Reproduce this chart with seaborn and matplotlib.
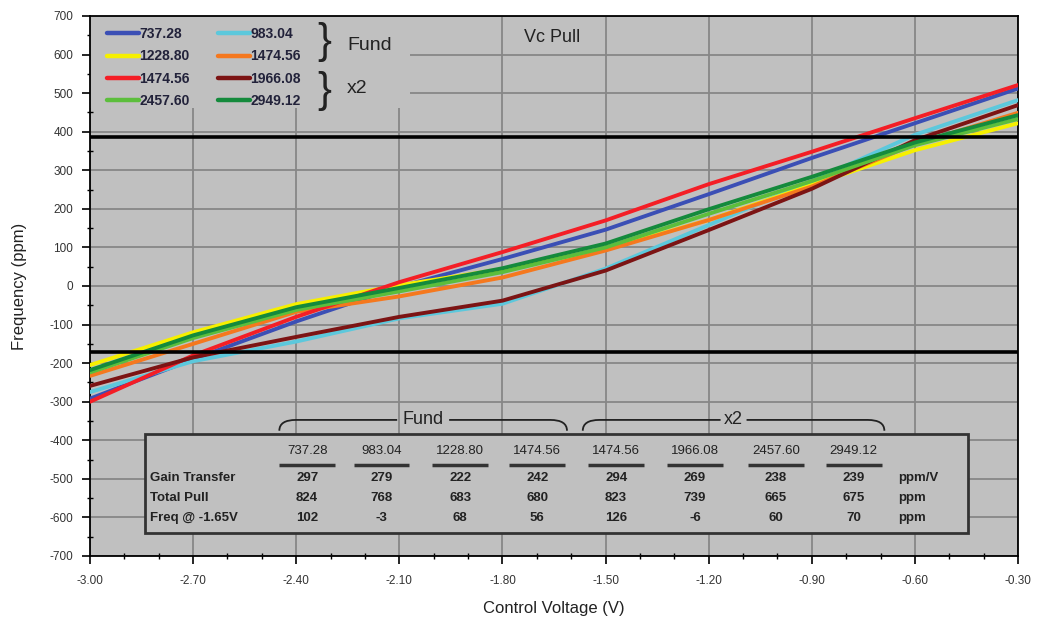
import numpy as np
import pandas as pd
import matplotlib
matplotlib.use("Agg")
import matplotlib.pyplot as plt
import seaborn as sns
from matplotlib.lines import Line2D
from matplotlib.patches import Rectangle, PathPatch
from matplotlib.path import Path
from matplotlib.ticker import MultipleLocator, FormatStrFormatter

# control voltage sample points (V)
voltage = [-3.0, -2.7, -2.4, -2.1, -1.8, -1.5, -1.2, -0.9, -0.6, -0.3]

# frequency deviation (ppm) per series
f737_28 = [-292, -190, -92, -2, 70, 146, 238, 332, 422, 512]
f983_04 = [-275, -195, -144, -84, -46, 45, 158, 272, 392, 482]
f1228_80 = [-205, -120, -47, 2, 44, 95, 171, 262, 352, 422]
f1474_56_fund = [-233, -150, -67, -27, 22, 92, 171, 258, 368, 449]
f1474_56_x2 = [-300, -180, -80, 10, 88, 170, 264, 348, 435, 521]
f1966_08 = [-259, -185, -132, -80, -38, 40, 145, 252, 378, 469]
f2457_60 = [-224, -135, -62, -14, 36, 100, 187, 272, 365, 433]
f2949_12 = [-218, -128, -55, -5, 46, 110, 199, 283, 372, 443]

series_keys = ["737.28", "983.04", "1228.80", "1474.56 F", "1474.56 X", "1966.08", "2457.60", "2949.12"]
series_labels = ["737.28", "983.04", "1228.80", "1474.56", "1474.56", "1966.08", "2457.60", "2949.12"]
series_vals = [f737_28, f983_04, f1228_80, f1474_56_fund, f1474_56_x2, f1966_08, f2457_60, f2949_12]
colors = ["#3b4fb5", "#5cc8dc", "#f6f000", "#f5781e", "#f41e26", "#7c1414", "#5cbe3c", "#148a3c"]

# limit lines
upper_limit = 387
lower_limit = -172

# table contents
table_cols = ["737.28", "983.04", "1228.80", "1474.56", "1474.56", "1966.08", "2457.60", "2949.12"]
gain_transfer = [297, 279, 222, 242, 294, 269, 238, 239]
total_pull = [824, 768, 683, 680, 823, 739, 665, 675]
freq_at_165 = [102, -3, 68, 56, 126, -6, 60, 70]
row_names = ["Gain Transfer", "Total Pull", "Freq @ -1.65V"]
row_units = ["ppm/V", "ppm", "ppm"]

rows = []
for key, vals in zip(series_keys, series_vals):
    for v, f in zip(voltage, vals):
        rows.append({"voltage": v, "ppm": f, "series": key})
df = pd.DataFrame(rows)

sns.set_theme(style="white")
plt.rcParams["font.family"] = ["Liberation Sans", "DejaVu Sans"]
plt.rcParams["axes.unicode_minus"] = False

bg = "#c0c0c0"
fig = plt.figure(figsize=(10.38, 6.18), dpi=100)
ax = fig.add_axes([90 / 1038, 1 - 556 / 618, 928 / 1038, 540 / 618])
ax.set_facecolor(bg)

sns.lineplot(data=df, x="voltage", y="ppm", hue="series", hue_order=series_keys,
             palette=dict(zip(series_keys, colors)), lw=2.8, legend=False,
             errorbar=None, sort=False, ax=ax, zorder=3)

ax.axhline(upper_limit, color="black", lw=2.6, zorder=4)
ax.axhline(lower_limit, color="black", lw=2.6, zorder=4)

ax.set_xlim(-3.0, -0.3)
ax.set_ylim(-700, 700)
ax.xaxis.set_major_locator(MultipleLocator(0.3))
ax.xaxis.set_minor_locator(MultipleLocator(0.1))
ax.xaxis.set_major_formatter(FormatStrFormatter("%.2f"))
ax.yaxis.set_major_locator(MultipleLocator(100))
ax.yaxis.set_minor_locator(MultipleLocator(50))
ax.grid(True, which="major", color="#878787", lw=1.3)
ax.set_axisbelow(True)
ax.tick_params(which="major", direction="out", length=6, width=1.2, color="black",
               labelsize=8.5, labelcolor="#333333", bottom=True, left=True)
ax.tick_params(axis="x", which="major", pad=8)
ax.tick_params(axis="y", which="major", pad=6)
ax.tick_params(which="minor", direction="inout", length=4, width=1, color="black",
               bottom=True, left=True)
for s in ax.spines.values():
    s.set_color("black")
    s.set_linewidth(1.3)
ax.set_xlabel("Control Voltage (V)", fontsize=12, color="#222222", labelpad=10)
ax.set_ylabel("Frequency (ppm)", fontsize=12, color="#222222", labelpad=16)

# legend area (opaque, hides grid)
ax.add_patch(Rectangle((0, 0.83), 0.345, 0.17, transform=ax.transAxes,
                       facecolor=bg, edgecolor="none", zorder=1.5))
order = [0, 2, 4, 6, 1, 3, 5, 7]
handles = [Line2D([], [], color=colors[i], lw=3.2) for i in order]
labels = [series_labels[i] for i in order]
leg = ax.legend(handles, labels, ncol=2, loc="upper left", bbox_to_anchor=(0.006, 1.0),
                frameon=False, prop={"weight": "bold", "size": 10},
                handlelength=2.3, handletextpad=0.05, labelspacing=0.6,
                columnspacing=2.0, borderaxespad=0.6, borderpad=0.2)
for t in leg.get_texts():
    t.set_color("#22223a")
ax.text(0.252, 0.951, "}", transform=ax.transAxes, fontsize=30, ha="center",
        va="center", color="#222222", fontweight="light")
ax.text(0.252, 0.862, "}", transform=ax.transAxes, fontsize=30, ha="center",
        va="center", color="#222222", fontweight="light")
ax.text(0.277, 0.946, "Fund", transform=ax.transAxes, fontsize=14, ha="left",
        va="center", color="#222222")
ax.text(0.277, 0.866, "x2", transform=ax.transAxes, fontsize=14, ha="left",
        va="center", color="#222222")
ax.text(0.498, 0.961, "Vc Pull", transform=ax.transAxes, fontsize=13, ha="center",
        va="center", color="#222222")

# table box
ax.add_patch(Rectangle((0.059, 0.043), 0.887, 0.183, transform=ax.transAxes,
                       facecolor=bg, edgecolor="#333333", lw=2, zorder=5))
col_x = [0.234, 0.314, 0.399, 0.482, 0.567, 0.652, 0.739, 0.823]
row_y = [0.144, 0.107, 0.070]
for cx, name in zip(col_x, table_cols):
    ax.text(cx, 0.194, name, transform=ax.transAxes, fontsize=9.5, ha="center",
            va="center", color="#222222", zorder=6)
    ax.plot([cx - 0.03, cx + 0.03], [0.168, 0.168], transform=ax.transAxes,
            color="#333333", lw=2.5, zorder=6, solid_capstyle="butt")
for ry, name, unit, vals in zip(row_y, row_names, row_units,
                                [gain_transfer, total_pull, freq_at_165]):
    ax.text(0.065, ry, name, transform=ax.transAxes, fontsize=9.5, fontweight="bold",
            ha="left", va="center", color="#222222", zorder=6)
    ax.text(0.871, ry, unit, transform=ax.transAxes, fontsize=9.5, fontweight="bold",
            ha="left", va="center", color="#222222", zorder=6)
    for cx, v in zip(col_x, vals):
        ax.text(cx, ry, str(v), transform=ax.transAxes, fontsize=9.5, fontweight="bold",
                ha="center", va="center", color="#222222", zorder=6)


def bracket(x0, x1, label):
    y, yd, r = 0.252, 0.232, 0.018
    xm = (x0 + x1) / 2
    gap = 0.028 if len(label) > 2 else 0.014
    verts = [(x0, yd), (x0, y), (x0 + r, y), (xm - gap, y)]
    codes = [Path.MOVETO, Path.CURVE3, Path.CURVE3, Path.LINETO]
    ax.add_patch(PathPatch(Path(verts, codes), transform=ax.transAxes, fill=False,
                           edgecolor="#222222", lw=1.3, zorder=6))
    verts = [(xm + gap, y), (x1 - r, y), (x1, y), (x1, yd)]
    codes = [Path.MOVETO, Path.LINETO, Path.CURVE3, Path.CURVE3]
    ax.add_patch(PathPatch(Path(verts, codes), transform=ax.transAxes, fill=False,
                           edgecolor="#222222", lw=1.3, zorder=6))
    ax.text(xm, y, label, transform=ax.transAxes, fontsize=13, ha="center",
            va="center", color="#222222", zorder=6)


bracket(0.204, 0.514, "Fund")
bracket(0.531, 0.856, "x2")

fig.savefig("out.png", dpi=100)
